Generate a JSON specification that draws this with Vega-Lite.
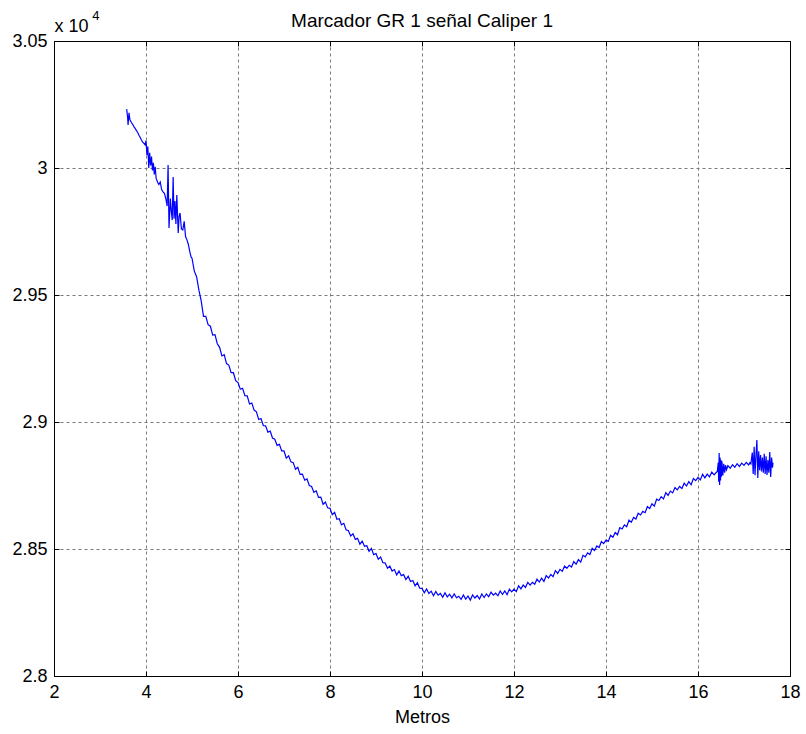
{
  "$schema": "https://vega.github.io/schema/vega-lite/v6.json",
  "width": 736,
  "height": 635,
  "autosize": {"type": "none"},
  "padding": {"left": 54, "top": 41, "right": 16, "bottom": 58},
  "background": "white",
  "title": {
    "text": "Marcador GR 1 señal Caliper 1",
    "font": "Liberation Sans",
    "fontSize": 19,
    "fontWeight": "normal",
    "color": "#000000",
    "anchor": "middle",
    "frame": "group",
    "offset": -21
  },
  "config": {
    "view": {"stroke": "#000000", "strokeWidth": 1},
    "axis": {
      "labelFont": "Liberation Sans",
      "labelFontSize": 18,
      "labelColor": "#000000",
      "labelFlush": false,
      "labelOverlap": false,
      "titleFont": "Liberation Sans",
      "titleFontSize": 18,
      "titleFontWeight": "normal",
      "titleColor": "#000000",
      "domainColor": "#000000",
      "tickColor": "#000000",
      "gridColor": "#7a7a7a",
      "gridDash": [3, 3],
      "gridOpacity": 1,
      "gridWidth": 1
    }
  },
  "data": {
    "values": [
      {"m": 3.58, "v": 30232}, {"m": 3.60, "v": 30200}, {"m": 3.61, "v": 30169}, {"m": 3.63, "v": 30217},
      {"m": 3.65, "v": 30190}, {"m": 3.68, "v": 30180}, {"m": 3.71, "v": 30172}, {"m": 3.74, "v": 30162},
      {"m": 3.76, "v": 30157}, {"m": 3.79, "v": 30148}, {"m": 3.82, "v": 30140}, {"m": 3.85, "v": 30128},
      {"m": 3.87, "v": 30122}, {"m": 3.90, "v": 30110}, {"m": 3.93, "v": 30102}, {"m": 3.95, "v": 30098},
      {"m": 3.98, "v": 30091}, {"m": 4.00, "v": 30108}, {"m": 4.02, "v": 30050}, {"m": 4.04, "v": 30085},
      {"m": 4.06, "v": 30000}, {"m": 4.08, "v": 30060}, {"m": 4.10, "v": 30010}, {"m": 4.12, "v": 30045},
      {"m": 4.14, "v": 29990}, {"m": 4.16, "v": 30020}, {"m": 4.18, "v": 29975}, {"m": 4.20, "v": 30005},
      {"m": 4.22, "v": 29960}, {"m": 4.25, "v": 29945}, {"m": 4.28, "v": 29935}, {"m": 4.31, "v": 29945},
      {"m": 4.34, "v": 29915}, {"m": 4.37, "v": 29906}, {"m": 4.40, "v": 29900}, {"m": 4.43, "v": 29880},
      {"m": 4.46, "v": 29850}, {"m": 4.48, "v": 30012}, {"m": 4.50, "v": 29764}, {"m": 4.53, "v": 29880},
      {"m": 4.55, "v": 29830}, {"m": 4.57, "v": 29795}, {"m": 4.59, "v": 29965}, {"m": 4.61, "v": 29800},
      {"m": 4.63, "v": 29870}, {"m": 4.65, "v": 29780}, {"m": 4.67, "v": 29894}, {"m": 4.70, "v": 29744},
      {"m": 4.72, "v": 29810}, {"m": 4.74, "v": 29823}, {"m": 4.77, "v": 29760}, {"m": 4.80, "v": 29756},
      {"m": 4.83, "v": 29790}, {"m": 4.86, "v": 29730}, {"m": 4.89, "v": 29717}, {"m": 4.92, "v": 29700},
      {"m": 4.95, "v": 29672}, {"m": 4.98, "v": 29650},
      {"m": 5.00, "v": 29645}, {"m": 5.05, "v": 29594}, {"m": 5.10, "v": 29572}, {"m": 5.15, "v": 29519},
      {"m": 5.20, "v": 29477}, {"m": 5.25, "v": 29416}, {"m": 5.30, "v": 29416}, {"m": 5.35, "v": 29383},
      {"m": 5.40, "v": 29377}, {"m": 5.45, "v": 29342}, {"m": 5.50, "v": 29344}, {"m": 5.55, "v": 29308},
      {"m": 5.60, "v": 29294}, {"m": 5.65, "v": 29260}, {"m": 5.70, "v": 29265}, {"m": 5.75, "v": 29230},
      {"m": 5.80, "v": 29224}, {"m": 5.85, "v": 29194}, {"m": 5.90, "v": 29194}, {"m": 5.95, "v": 29163},
      {"m": 6.00, "v": 29155}, {"m": 6.05, "v": 29129}, {"m": 6.10, "v": 29133}, {"m": 6.15, "v": 29104},
      {"m": 6.20, "v": 29103}, {"m": 6.25, "v": 29071}, {"m": 6.30, "v": 29075}, {"m": 6.35, "v": 29047},
      {"m": 6.40, "v": 29040}, {"m": 6.45, "v": 29010}, {"m": 6.50, "v": 29014}, {"m": 6.55, "v": 28986},
      {"m": 6.60, "v": 28985}, {"m": 6.65, "v": 28960}, {"m": 6.70, "v": 28964}, {"m": 6.75, "v": 28937},
      {"m": 6.80, "v": 28932}, {"m": 6.85, "v": 28908}, {"m": 6.90, "v": 28912}, {"m": 6.95, "v": 28886},
      {"m": 7.00, "v": 28886}, {"m": 7.05, "v": 28858}, {"m": 7.10, "v": 28867}, {"m": 7.15, "v": 28843},
      {"m": 7.20, "v": 28840}, {"m": 7.25, "v": 28814}, {"m": 7.30, "v": 28822}, {"m": 7.35, "v": 28794},
      {"m": 7.40, "v": 28795}, {"m": 7.45, "v": 28771}, {"m": 7.50, "v": 28776}, {"m": 7.55, "v": 28750},
      {"m": 7.60, "v": 28746}, {"m": 7.65, "v": 28723}, {"m": 7.70, "v": 28729}, {"m": 7.75, "v": 28703},
      {"m": 7.80, "v": 28704}, {"m": 7.85, "v": 28676}, {"m": 7.90, "v": 28685}, {"m": 7.95, "v": 28662},
      {"m": 8.00, "v": 28660}, {"m": 8.05, "v": 28635}, {"m": 8.10, "v": 28644}, {"m": 8.15, "v": 28617},
      {"m": 8.20, "v": 28619}, {"m": 8.25, "v": 28595}, {"m": 8.30, "v": 28601}, {"m": 8.35, "v": 28576},
      {"m": 8.40, "v": 28572}, {"m": 8.45, "v": 28551}, {"m": 8.50, "v": 28560}, {"m": 8.55, "v": 28538},
      {"m": 8.60, "v": 28542}, {"m": 8.65, "v": 28519}, {"m": 8.70, "v": 28531}, {"m": 8.75, "v": 28511},
      {"m": 8.80, "v": 28513}, {"m": 8.85, "v": 28491}, {"m": 8.90, "v": 28502}, {"m": 8.95, "v": 28478},
      {"m": 9.00, "v": 28482}, {"m": 9.05, "v": 28460}, {"m": 9.10, "v": 28468}, {"m": 9.15, "v": 28446},
      {"m": 9.20, "v": 28445}, {"m": 9.25, "v": 28424}, {"m": 9.30, "v": 28433}, {"m": 9.35, "v": 28413},
      {"m": 9.40, "v": 28419}, {"m": 9.45, "v": 28398}, {"m": 9.50, "v": 28413}, {"m": 9.55, "v": 28395},
      {"m": 9.60, "v": 28399}, {"m": 9.65, "v": 28380}, {"m": 9.70, "v": 28393}, {"m": 9.75, "v": 28372},
      {"m": 9.80, "v": 28376}, {"m": 9.85, "v": 28355}, {"m": 9.90, "v": 28367}, {"m": 9.95, "v": 28346},
      {"m": 10.00, "v": 28345}, {"m": 10.05, "v": 28328}, {"m": 10.10, "v": 28343}, {"m": 10.15, "v": 28325},
      {"m": 10.20, "v": 28334}, {"m": 10.25, "v": 28316}, {"m": 10.30, "v": 28333}, {"m": 10.35, "v": 28318},
      {"m": 10.40, "v": 28325}, {"m": 10.45, "v": 28310}, {"m": 10.50, "v": 28328}, {"m": 10.55, "v": 28311},
      {"m": 10.60, "v": 28322}, {"m": 10.65, "v": 28308}, {"m": 10.70, "v": 28323}, {"m": 10.75, "v": 28308},
      {"m": 10.80, "v": 28314}, {"m": 10.85, "v": 28302}, {"m": 10.90, "v": 28319}, {"m": 10.95, "v": 28303},
      {"m": 11.00, "v": 28315}, {"m": 11.05, "v": 28299}, {"m": 11.10, "v": 28319}, {"m": 11.15, "v": 28307},
      {"m": 11.20, "v": 28317}, {"m": 11.25, "v": 28303}, {"m": 11.30, "v": 28323}, {"m": 11.35, "v": 28309},
      {"m": 11.40, "v": 28323}, {"m": 11.45, "v": 28312}, {"m": 11.50, "v": 28330}, {"m": 11.55, "v": 28318},
      {"m": 11.60, "v": 28326}, {"m": 11.65, "v": 28316}, {"m": 11.70, "v": 28335}, {"m": 11.75, "v": 28321},
      {"m": 11.80, "v": 28335}, {"m": 11.85, "v": 28320}, {"m": 11.90, "v": 28342}, {"m": 11.95, "v": 28331},
      {"m": 12.00, "v": 28342}, {"m": 12.05, "v": 28332}, {"m": 12.10, "v": 28355}, {"m": 12.15, "v": 28343},
      {"m": 12.20, "v": 28358}, {"m": 12.25, "v": 28349}, {"m": 12.30, "v": 28369}, {"m": 12.35, "v": 28358},
      {"m": 12.40, "v": 28369}, {"m": 12.45, "v": 28361}, {"m": 12.50, "v": 28381}, {"m": 12.55, "v": 28370},
      {"m": 12.60, "v": 28385}, {"m": 12.65, "v": 28372}, {"m": 12.70, "v": 28395}, {"m": 12.75, "v": 28386},
      {"m": 12.80, "v": 28400}, {"m": 12.85, "v": 28391}, {"m": 12.90, "v": 28415}, {"m": 12.95, "v": 28404},
      {"m": 13.00, "v": 28420}, {"m": 13.05, "v": 28412}, {"m": 13.10, "v": 28433}, {"m": 13.15, "v": 28424},
      {"m": 13.20, "v": 28436}, {"m": 13.25, "v": 28429}, {"m": 13.30, "v": 28450}, {"m": 13.35, "v": 28440},
      {"m": 13.40, "v": 28458}, {"m": 13.45, "v": 28448}, {"m": 13.50, "v": 28475}, {"m": 13.55, "v": 28469},
      {"m": 13.60, "v": 28485}, {"m": 13.65, "v": 28478}, {"m": 13.70, "v": 28503}, {"m": 13.75, "v": 28494},
      {"m": 13.80, "v": 28512}, {"m": 13.85, "v": 28506}, {"m": 13.90, "v": 28529}, {"m": 13.95, "v": 28521},
      {"m": 14.00, "v": 28535}, {"m": 14.05, "v": 28530}, {"m": 14.10, "v": 28554}, {"m": 14.15, "v": 28546},
      {"m": 14.20, "v": 28565}, {"m": 14.25, "v": 28556}, {"m": 14.30, "v": 28584}, {"m": 14.35, "v": 28579},
      {"m": 14.40, "v": 28595}, {"m": 14.45, "v": 28588}, {"m": 14.50, "v": 28614}, {"m": 14.55, "v": 28605},
      {"m": 14.60, "v": 28624}, {"m": 14.65, "v": 28618}, {"m": 14.70, "v": 28641}, {"m": 14.75, "v": 28634},
      {"m": 14.80, "v": 28648}, {"m": 14.85, "v": 28643}, {"m": 14.90, "v": 28667}, {"m": 14.95, "v": 28659},
      {"m": 15.00, "v": 28678}, {"m": 15.05, "v": 28669}, {"m": 15.10, "v": 28696}, {"m": 15.15, "v": 28691},
      {"m": 15.20, "v": 28706}, {"m": 15.25, "v": 28697}, {"m": 15.30, "v": 28722}, {"m": 15.35, "v": 28711},
      {"m": 15.40, "v": 28728}, {"m": 15.45, "v": 28721}, {"m": 15.50, "v": 28742}, {"m": 15.55, "v": 28733},
      {"m": 15.60, "v": 28746}, {"m": 15.65, "v": 28738}, {"m": 15.70, "v": 28759}, {"m": 15.75, "v": 28748},
      {"m": 15.80, "v": 28765}, {"m": 15.85, "v": 28753}, {"m": 15.90, "v": 28777}, {"m": 15.95, "v": 28769},
      {"m": 16.00, "v": 28782}, {"m": 16.05, "v": 28772}, {"m": 16.10, "v": 28794}, {"m": 16.15, "v": 28780},
      {"m": 16.20, "v": 28795}, {"m": 16.25, "v": 28784}, {"m": 16.30, "v": 28803}, {"m": 16.35, "v": 28792},
      {"m": 16.40, "v": 28802},
      {"m": 16.42, "v": 28805}, {"m": 16.44, "v": 28840}, {"m": 16.45, "v": 28765}, {"m": 16.46, "v": 28878},
      {"m": 16.47, "v": 28752}, {"m": 16.48, "v": 28860}, {"m": 16.49, "v": 28770}, {"m": 16.50, "v": 28850},
      {"m": 16.51, "v": 28785}, {"m": 16.52, "v": 28845}, {"m": 16.54, "v": 28790}, {"m": 16.56, "v": 28835},
      {"m": 16.58, "v": 28800}, {"m": 16.60, "v": 28830}, {"m": 16.62, "v": 28812}, {"m": 16.65, "v": 28828},
      {"m": 16.70, "v": 28818}, {"m": 16.75, "v": 28832}, {"m": 16.80, "v": 28822}, {"m": 16.85, "v": 28836},
      {"m": 16.90, "v": 28825}, {"m": 16.95, "v": 28838}, {"m": 17.00, "v": 28829}, {"m": 17.05, "v": 28841},
      {"m": 17.10, "v": 28831}, {"m": 17.13, "v": 28840}, {"m": 17.15, "v": 28835}, {"m": 17.18, "v": 28880},
      {"m": 17.20, "v": 28795}, {"m": 17.22, "v": 28902}, {"m": 17.24, "v": 28790}, {"m": 17.26, "v": 28870},
      {"m": 17.28, "v": 28929}, {"m": 17.30, "v": 28780}, {"m": 17.32, "v": 28885}, {"m": 17.34, "v": 28810},
      {"m": 17.36, "v": 28870}, {"m": 17.38, "v": 28805}, {"m": 17.40, "v": 28860}, {"m": 17.42, "v": 28800},
      {"m": 17.44, "v": 28875}, {"m": 17.46, "v": 28795}, {"m": 17.48, "v": 28865}, {"m": 17.50, "v": 28791},
      {"m": 17.52, "v": 28850}, {"m": 17.54, "v": 28800}, {"m": 17.56, "v": 28882}, {"m": 17.58, "v": 28784},
      {"m": 17.60, "v": 28860}, {"m": 17.62, "v": 28820}, {"m": 17.63, "v": 28840}
    ]
  },
  "layer": [
    {
      "mark": {"type": "line", "color": "#0000ff", "strokeWidth": 1.2, "clip": true},
      "encoding": {
        "x": {
          "field": "m",
          "type": "quantitative",
          "scale": {"domain": [2, 18], "nice": false, "zero": false},
          "axis": {
            "orient": "bottom",
            "values": [2, 4, 6, 8, 10, 12, 14, 16, 18],
            "grid": true,
            "tickSize": -5,
            "labelPadding": 12,
            "title": "Metros",
            "titlePadding": 7
          }
        },
        "y": {
          "field": "v",
          "type": "quantitative",
          "scale": {"domain": [28000, 30500], "nice": false, "zero": false},
          "axis": {
            "orient": "left",
            "values": [28000, 28500, 29000, 29500, 30000, 30500],
            "labelExpr": "datum.value / 10000",
            "grid": true,
            "tickSize": -5,
            "labelPadding": 12,
            "title": "x 10",
            "titleAngle": 0,
            "titleAlign": "left",
            "titleBaseline": "alphabetic",
            "titleX": 0,
            "titleY": -10
          }
        }
      }
    },
    {
      "mark": {"type": "point", "opacity": 0},
      "encoding": {
        "x": {
          "field": "m",
          "type": "quantitative",
          "axis": {
            "orient": "top",
            "values": [2, 4, 6, 8, 10, 12, 14, 16, 18],
            "labels": false,
            "grid": false,
            "tickSize": -5,
            "title": null
          }
        },
        "y": {
          "field": "v",
          "type": "quantitative",
          "axis": {
            "orient": "right",
            "values": [28000, 28500, 29000, 29500, 30000, 30500],
            "labels": false,
            "grid": false,
            "tickSize": -5,
            "title": null
          }
        }
      }
    },
    {
      "data": {"values": [{"exp": "4"}]},
      "mark": {
        "type": "text",
        "font": "Liberation Sans",
        "fontSize": 13,
        "color": "#000000",
        "align": "left",
        "baseline": "alphabetic",
        "clip": false
      },
      "encoding": {
        "text": {"field": "exp"},
        "x": {"datum": 2.83, "type": "quantitative", "axis": null},
        "y": {"datum": 30583, "type": "quantitative", "axis": null}
      }
    }
  ],
  "resolve": {"axis": {"x": "independent", "y": "independent"}}
}
